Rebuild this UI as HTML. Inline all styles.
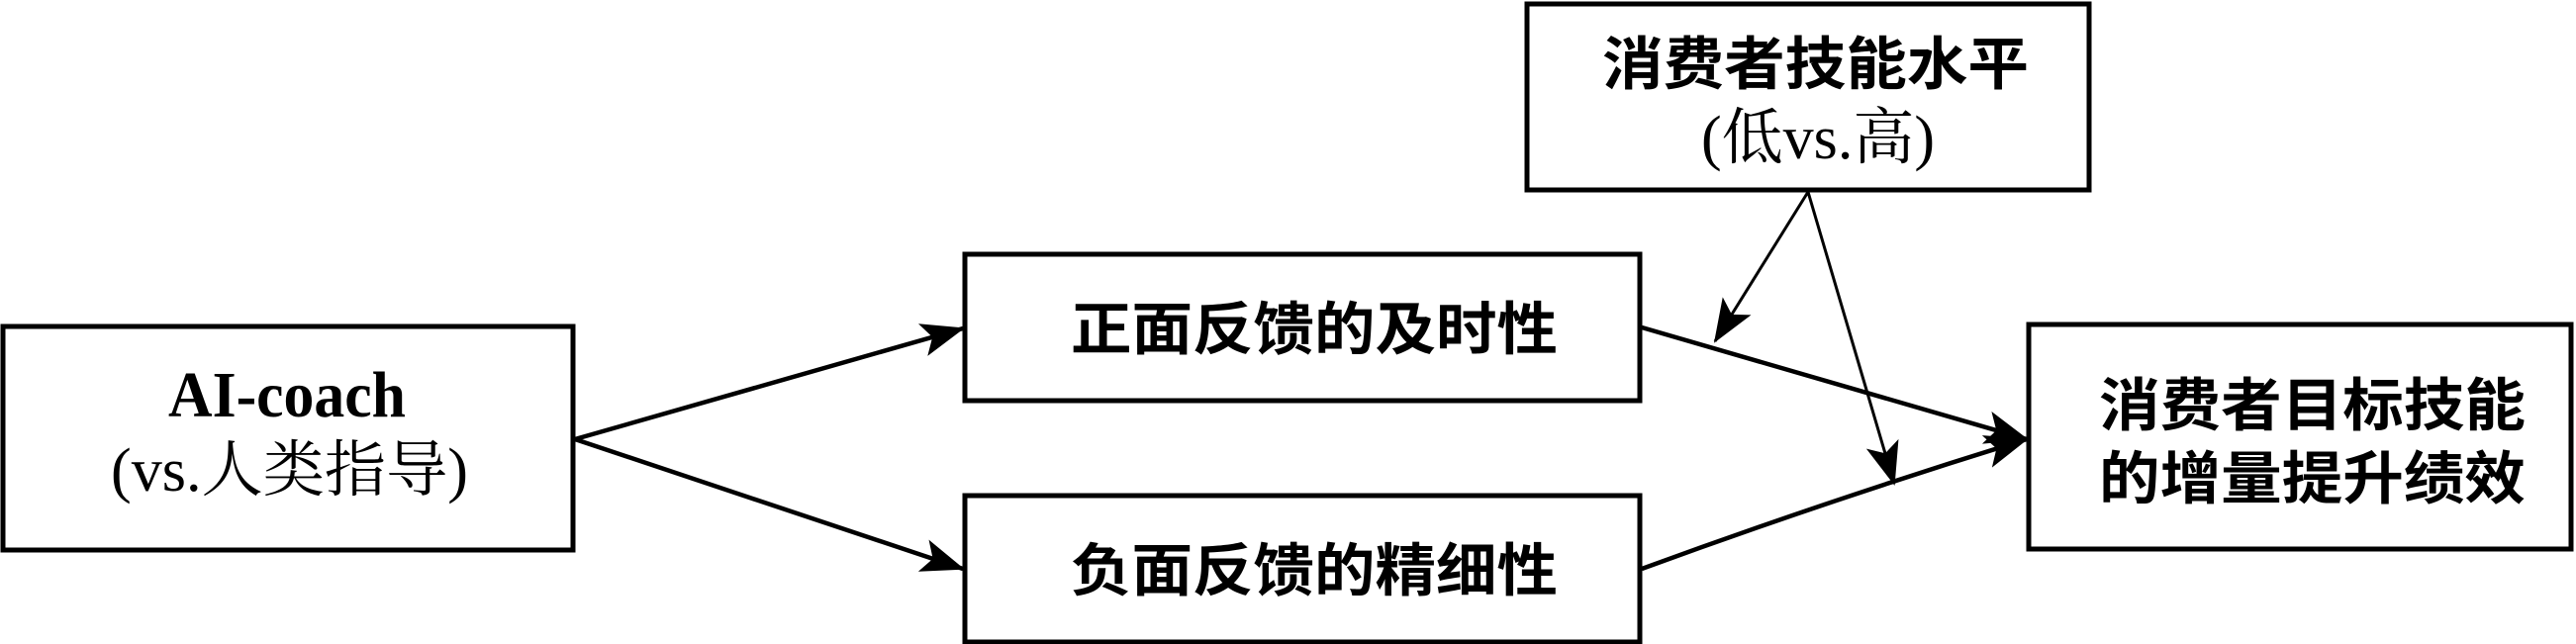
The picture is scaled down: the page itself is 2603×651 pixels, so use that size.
<!DOCTYPE html>
<html><head><meta charset="utf-8"><style>html,body{margin:0;padding:0;background:#fff}svg{display:block}</style></head>
<body>
<svg width="2603" height="651" viewBox="0 0 2603 651" xmlns="http://www.w3.org/2000/svg">
<defs>
<marker id="a" markerUnits="userSpaceOnUse" markerWidth="46" markerHeight="34" refX="42" refY="17" orient="auto"><path d="M0,0 L44,17 L0,34 L10,17 Z" fill="#000"/></marker>
</defs>
<g fill="none" stroke="#000" stroke-width="5">
<rect x="3" y="330" width="576" height="226"/>
<rect x="975" y="257" width="682" height="148"/>
<rect x="975" y="501" width="682" height="148"/>
<rect x="1543" y="4" width="568" height="188"/>
<rect x="2050" y="328" width="548" height="227"/>
</g>
<g stroke="#000" stroke-width="4.5" fill="none">
<line x1="581" y1="444" x2="973" y2="332" marker-end="url(#a)"/>
<line x1="581" y1="444" x2="973" y2="575" marker-end="url(#a)"/>
<line x1="1659" y1="331" x2="2048" y2="444" marker-end="url(#a)"/>
<path d="M1659,575 Q1850,505 2048,444" marker-end="url(#a)"/>
</g>
<g stroke="#000" stroke-width="3" fill="none">
<line x1="1827" y1="194" x2="1733" y2="345" marker-end="url(#a)"/>
<line x1="1827" y1="194" x2="1914" y2="489" marker-end="url(#a)"/>
</g>
<g fill="#000">
<text x="170" y="421" font-family="Liberation Serif, serif" font-weight="bold" font-size="66" textLength="240" lengthAdjust="spacingAndGlyphs">AI-coach</text>
<text x="112" y="496" font-family="Liberation Serif, 'Noto Serif CJK SC', serif" font-size="62" textLength="361" lengthAdjust="spacingAndGlyphs">(vs.人类指导)</text>
<text x="1082" y="353" font-family="'Liberation Sans','Noto Sans CJK SC',sans-serif" font-weight="bold" font-size="58" textLength="492" lengthAdjust="spacingAndGlyphs">正面反馈的及时性</text>
<text x="1082" y="597" font-family="'Liberation Sans','Noto Sans CJK SC',sans-serif" font-weight="bold" font-size="58" textLength="492" lengthAdjust="spacingAndGlyphs">负面反馈的精细性</text>
<text x="1619" y="85" font-family="'Liberation Sans','Noto Sans CJK SC',sans-serif" font-weight="bold" font-size="58" textLength="431" lengthAdjust="spacingAndGlyphs">消费者技能水平</text>
<text x="1719" y="160" font-family="Liberation Serif,'Noto Serif CJK SC',serif" font-size="62" textLength="236" lengthAdjust="spacingAndGlyphs">(低vs.高)</text>
<text x="2121" y="430" font-family="'Liberation Sans','Noto Sans CJK SC',sans-serif" font-weight="bold" font-size="58" textLength="431" lengthAdjust="spacingAndGlyphs">消费者目标技能</text>
<text x="2121" y="504" font-family="'Liberation Sans','Noto Sans CJK SC',sans-serif" font-weight="bold" font-size="58" textLength="431" lengthAdjust="spacingAndGlyphs">的增量提升绩效</text>
</g>
</svg>
</body></html>
